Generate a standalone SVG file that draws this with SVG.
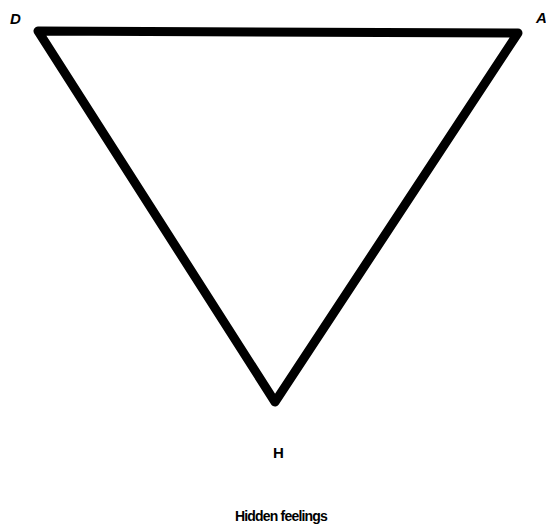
<svg xmlns="http://www.w3.org/2000/svg" width="546" height="528" viewBox="0 0 546 528">
<style>
.lbl{font-family:"Liberation Sans",Arial,sans-serif;font-weight:bold;font-size:15px;fill:#000}
.cap{font-family:"Liberation Sans",Arial,sans-serif;font-weight:bold;font-size:14px;fill:#000;letter-spacing:-0.8px}
</style>
<rect width="546" height="528" fill="#fff"/>
<g id="connectors">
<polygon points="38,31 518,33 275,402" fill="none" stroke="#000" stroke-width="9" stroke-linejoin="round"/>
</g>
<g id="D"><text class="lbl" x="10" y="24" font-style="italic">D</text></g>
<g id="A"><text class="lbl" x="536" y="23" font-style="italic">A</text></g>
<g id="H"><text class="lbl" x="273" y="458">H</text></g>
<g id="caption"><text class="cap" x="281" y="521" text-anchor="middle">Hidden feelings</text></g>
</svg>
